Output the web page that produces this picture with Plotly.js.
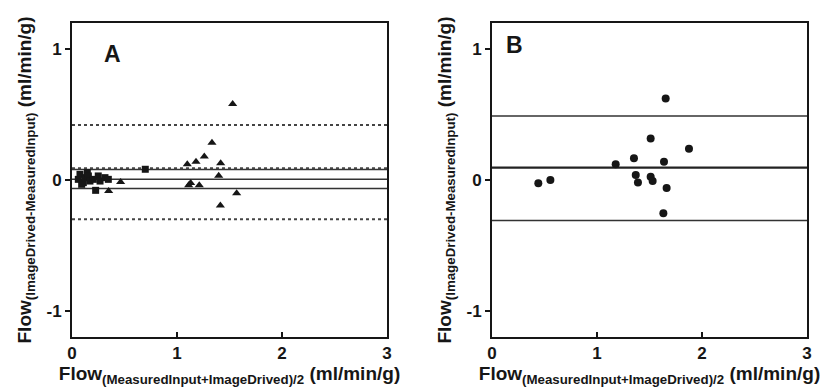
<!DOCTYPE html>
<html><head><meta charset="utf-8">
<script src="https://cdn.plot.ly/plotly-3.0.1.min.js"></script>
<style>html,body{margin:0;padding:0;background:#fff}#chart{width:839px;height:387px}</style>
</head><body><div id="chart"></div>
<script>
// Panel A: squares
const aSquareX = [0.06,0.076,0.092,0.108,0.124,0.146,0.156,0.171,0.203,0.225,0.25,0.267,0.314,0.346,0.698];
const aSquareY = [0.005,0.043,-0.033,-0.02,0.018,0.056,0.031,-0.008,0.005,-0.079,0.031,-0.008,0.018,0.005,0.082];
// Panel A: triangles
const aTriX = [0.349,0.463,1.098,1.111,1.13,1.181,1.212,1.26,1.333,1.397,1.413,1.416,1.53,1.568];
const aTriY = [-0.084,-0.015,0.12,-0.041,-0.023,0.14,-0.041,0.18,0.284,0.033,-0.194,0.128,0.58,-0.102];
// Panel A reference lines
const aSolidLines = [0.08, 0.005, -0.065];
const aDottedLines = [0.42, 0.09, -0.30];
// Panel B: circles
const bX = [0.441,0.556,1.178,1.352,1.369,1.39,1.511,1.511,1.53,1.632,1.638,1.654,1.663,1.876];
const bY = [-0.025,0.0,0.12,0.166,0.038,-0.02,0.317,0.025,-0.008,-0.255,0.14,0.623,-0.061,0.238];
// Panel B reference lines
const bMean = 0.094;
const bLimits = [0.49, -0.31];
// Tick labels
const xTicks = [0, 1, 2, 3];
const yTicks = [-1, 0, 1];

const xSpan = [0, 3];
const ink = '#161616';
const traces = [];
aSolidLines.forEach(v => traces.push({x:xSpan, y:[v,v], xaxis:'x', yaxis:'y', mode:'lines', line:{color:'#333', width:1.5}, hoverinfo:'skip', showlegend:false}));
aDottedLines.forEach(v => traces.push({x:xSpan, y:[v,v], xaxis:'x', yaxis:'y', mode:'lines', line:{color:'#444', width:2, dash:'dot'}, hoverinfo:'skip', showlegend:false}));
traces.push({x:aSquareX, y:aSquareY, xaxis:'x', yaxis:'y', mode:'markers', marker:{symbol:'square', size:7, color:ink}, showlegend:false});
traces.push({x:aTriX, y:aTriY, xaxis:'x', yaxis:'y', mode:'markers', marker:{symbol:'triangle-up', size:8, color:ink}, showlegend:false});
bLimits.forEach(v => traces.push({x:xSpan, y:[v,v], xaxis:'x2', yaxis:'y2', mode:'lines', line:{color:'#333', width:1.5}, hoverinfo:'skip', showlegend:false}));
traces.push({x:xSpan, y:[bMean,bMean], xaxis:'x2', yaxis:'y2', mode:'lines', line:{color:'#222', width:2.2}, hoverinfo:'skip', showlegend:false});
traces.push({x:bX, y:bY, xaxis:'x2', yaxis:'y2', mode:'markers', marker:{symbol:'circle', size:8, color:ink}, showlegend:false});

const fam = 'Liberation Sans, Arial, sans-serif';
const font = {family:fam, color:ink};
const xTitle = 'Flow<sub>(MeasuredInput+ImageDrived)/2</sub> (ml/min/g)';
const yTitle = 'Flow<sub>(ImageDrived-MeasuredInput)</sub> (ml/min/g)';
function xa(domain, anchor){return {domain, anchor, range:[0,3], tickvals:xTicks, ticktext:xTicks.map(v=>'<b>'+v+'</b>'), ticks:'inside', ticklen:5, tickwidth:1.5, tickcolor:ink, showgrid:false, zeroline:false, showline:true, linewidth:2, linecolor:ink, mirror:true, tickfont:{size:17, family:fam, color:ink}, fixedrange:true, automargin:false,
  title:{text:'<b>'+xTitle+'</b>', font:{size:19, family:fam, color:ink}, standoff:2}};}
function ya(domain, anchor){return {domain, anchor, range:[-1.2,1.2], tickvals:yTicks, ticktext:yTicks.map(v=>'<b>'+v+'</b>'), ticks:'outside', ticklen:5, tickwidth:1.5, tickcolor:ink, showgrid:false, zeroline:false, showline:true, linewidth:2, linecolor:ink, mirror:true, tickfont:{size:17, family:fam, color:ink}, fixedrange:true, automargin:false,
  title:{text:'<b>'+yTitle+'</b>', font:{size:19, family:fam, color:ink}, standoff:10}};}

const layout = {
  width:839, height:387, margin:{l:0, r:0, t:0, b:0},
  paper_bgcolor:'#fff', plot_bgcolor:'#fff', font,
  xaxis: xa([72/839, 387/839], 'y'),
  yaxis: ya([50/387, 364/387], 'x'),
  xaxis2: xa([492/839, 807/839], 'y2'),
  yaxis2: ya([50/387, 364/387], 'x2'),
  annotations:[
    {text:'<b>A</b>', x:0.39, y:0.965, xref:'x', yref:'y', showarrow:false, font:{size:23, family:fam, color:ink}},
    {text:'<b>B</b>', x:0.215, y:1.03, xref:'x2', yref:'y2', showarrow:false, font:{size:23, family:fam, color:ink}}
  ],
  showlegend:false
};
Plotly.newPlot('chart', traces, layout, {displayModeBar:false, staticPlot:true});
</script></body></html>
